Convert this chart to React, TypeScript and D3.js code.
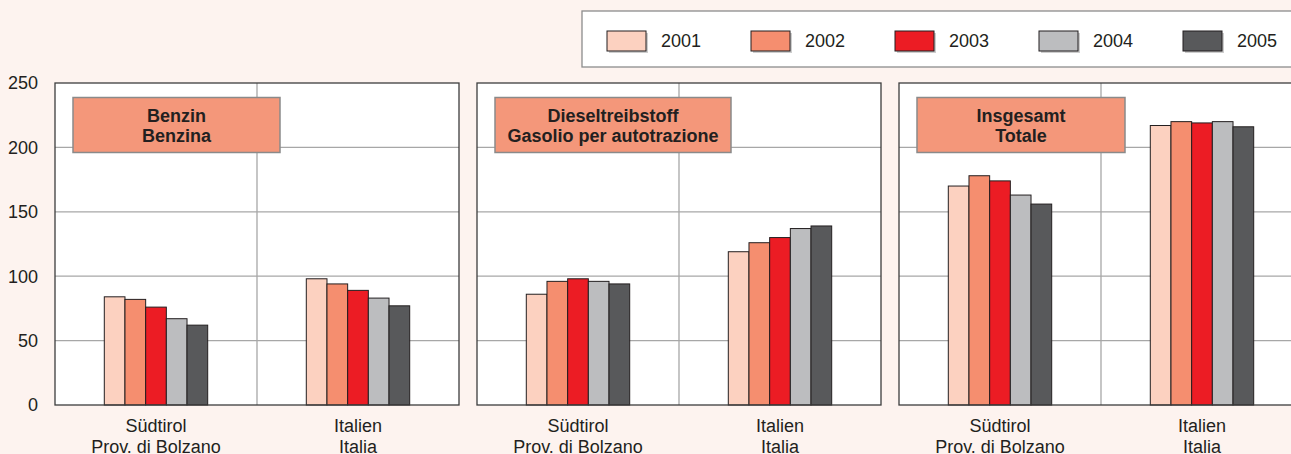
import * as React from "react";
import * as d3 from "d3";

// years / series
const years = ["2001", "2002", "2003", "2004", "2005"];
const yearColors = ["#fcd1c0", "#f58e6f", "#ec1c24", "#bcbdbf", "#58595b"];

// categories (two-line labels)
const categoryDe = ["Südtirol", "Italien"];
const categoryIt = ["Prov. di Bolzano", "Italia"];

// panel titles
const titleDe = ["Benzin", "Dieseltreibstoff", "Insgesamt"];
const titleIt = ["Benzina", "Gasolio per autotrazione", "Totale"];

// values per panel: [Südtirol, Italien] x years
const benzinSuedtirol = [84, 82, 76, 67, 62];
const benzinItalien = [98, 94, 89, 83, 77];
const dieselSuedtirol = [86, 96, 98, 96, 94];
const dieselItalien = [119, 126, 130, 137, 139];
const totalSuedtirol = [170, 178, 174, 163, 156];
const totalItalien = [217, 220, 219, 220, 216];

const yTicks = [0, 50, 100, 150, 200, 250];

const panels = [
  { de: titleDe[0], it: titleIt[0], values: [benzinSuedtirol, benzinItalien], boxW: 207 },
  { de: titleDe[1], it: titleIt[1], values: [dieselSuedtirol, dieselItalien], boxW: 236 },
  { de: titleDe[2], it: titleIt[2], values: [totalSuedtirol, totalItalien], boxW: 208 },
];

const FONT = "'Liberation Sans', Arial, sans-serif";
const TEXT = "#231f20";

function drawChart(svgRef) {
  const width = 1291;
  const height = 454;
  const top = 83;
  const bottom = 405;
  const panelX = [55, 477, 899];
  const panelW = 404;

  const svg = d3.select(svgRef.current).attr("width", width).attr("height", height);
  svg.selectAll("*").remove();

  svg.append("rect").attr("width", width).attr("height", height).attr("fill", "#fdf3ef");

  const y = d3.scaleLinear().domain([0, 250]).range([bottom, top]);

  // legend
  const legend = svg.append("g");
  legend
    .append("rect")
    .attr("x", 582)
    .attr("y", 11)
    .attr("width", 760)
    .attr("height", 56)
    .attr("fill", "#ffffff")
    .attr("stroke", "#8c8c8c")
    .attr("stroke-width", 1.3);

  const lx = d3.scaleBand().domain(years).range([607, 607 + 144 * 5]);
  years.forEach((yr, i) => {
    const x0 = lx(yr);
    legend
      .append("rect")
      .attr("x", x0 + 2)
      .attr("y", 33)
      .attr("width", 39)
      .attr("height", 20)
      .attr("fill", "#b8b8b8")
      .attr("opacity", 0.7);
    legend
      .append("rect")
      .attr("x", x0)
      .attr("y", 31)
      .attr("width", 39)
      .attr("height", 20)
      .attr("fill", yearColors[i])
      .attr("stroke", TEXT)
      .attr("stroke-width", 1);
    legend
      .append("text")
      .attr("x", x0 + 54)
      .attr("y", 41)
      .attr("dy", "0.35em")
      .attr("font-family", FONT)
      .attr("font-size", 18)
      .attr("fill", TEXT)
      .text(yr);
  });

  // y tick labels
  svg
    .selectAll(".ytick")
    .data(yTicks)
    .enter()
    .append("text")
    .attr("x", 38)
    .attr("y", (d) => y(d))
    .attr("dy", "0.35em")
    .attr("text-anchor", "end")
    .attr("font-family", FONT)
    .attr("font-size", 18)
    .attr("fill", TEXT)
    .text((d) => d);

  panels.forEach((p, pi) => {
    const g = svg.append("g").attr("transform", `translate(${panelX[pi]},0)`);
    const x0 = d3.scaleBand().domain(categoryDe).range([0, panelW]);
    const x1 = d3.scaleBand().domain(years).range([0, 103.4]);

    g.append("rect")
      .attr("x", 0)
      .attr("y", top)
      .attr("width", panelW)
      .attr("height", bottom - top)
      .attr("fill", "#ffffff");

    // grid
    g.selectAll(".grid")
      .data([50, 100, 150, 200])
      .enter()
      .append("line")
      .attr("x1", 0)
      .attr("x2", panelW)
      .attr("y1", (d) => y(d))
      .attr("y2", (d) => y(d))
      .attr("stroke", "#a7a7a7")
      .attr("stroke-width", 1.3);

    g.append("line")
      .attr("x1", panelW / 2)
      .attr("x2", panelW / 2)
      .attr("y1", top)
      .attr("y2", bottom)
      .attr("stroke", "#a7a7a7")
      .attr("stroke-width", 1.3);

    // bars
    categoryDe.forEach((cat, ci) => {
      const start = x0(cat) + x0.bandwidth() / 2 - 51.7;
      g.selectAll(".bar" + ci)
        .data(p.values[ci])
        .enter()
        .append("rect")
        .attr("x", (d, i) => start + x1(years[i]))
        .attr("y", (d) => y(d))
        .attr("width", x1.bandwidth())
        .attr("height", (d) => bottom - y(d))
        .attr("fill", (d, i) => yearColors[i])
        .attr("stroke", TEXT)
        .attr("stroke-width", 1);

      const cx = x0(cat) + x0.bandwidth() / 2;
      g.append("text")
        .attr("x", cx)
        .attr("y", 432)
        .attr("text-anchor", "middle")
        .attr("font-family", FONT)
        .attr("font-size", 18)
        .attr("fill", TEXT)
        .text(cat);
      g.append("text")
        .attr("x", cx)
        .attr("y", 453)
        .attr("text-anchor", "middle")
        .attr("font-family", FONT)
        .attr("font-size", 18)
        .attr("fill", TEXT)
        .text(categoryIt[ci]);
    });

    // border
    g.append("rect")
      .attr("x", 0)
      .attr("y", top)
      .attr("width", panelW)
      .attr("height", bottom - top)
      .attr("fill", "none")
      .attr("stroke", "#3d3d3d")
      .attr("stroke-width", 1.3);

    // title box
    g.append("rect")
      .attr("x", 18)
      .attr("y", 97.5)
      .attr("width", p.boxW)
      .attr("height", 55)
      .attr("fill", "#f4977a")
      .attr("stroke", "#8a8a8a")
      .attr("stroke-width", 1.5);
    const tcx = 18 + p.boxW / 2;
    g.append("text")
      .attr("x", tcx)
      .attr("y", 116)
      .attr("dy", "0.35em")
      .attr("text-anchor", "middle")
      .attr("font-family", FONT)
      .attr("font-weight", "bold")
      .attr("font-size", 18)
      .attr("fill", TEXT)
      .text(p.de);
    g.append("text")
      .attr("x", tcx)
      .attr("y", 136)
      .attr("dy", "0.35em")
      .attr("text-anchor", "middle")
      .attr("font-family", FONT)
      .attr("font-weight", "bold")
      .attr("font-size", 18)
      .attr("fill", TEXT)
      .text(p.it);
  });
}

const App = () => {
  const svgRef = React.useRef(null);

  React.useEffect(() => {
    drawChart(svgRef);
  }, [svgRef]);

  return (
    <div style={{ position: "absolute", left: 0, top: 0, width: 1291, height: 454, overflow: "hidden" }}>
      <svg ref={svgRef} style={{ display: "block" }} />
    </div>
  );
};

export default App;
